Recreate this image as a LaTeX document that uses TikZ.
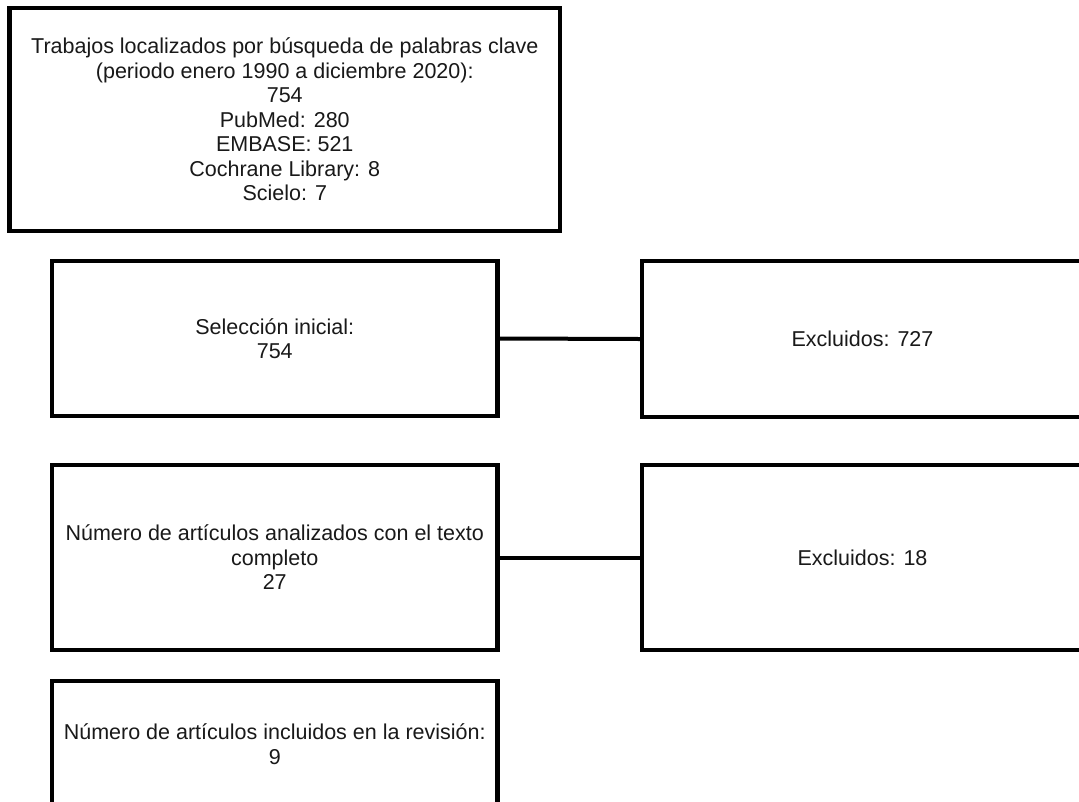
\documentclass[tikz,border=0pt]{standalone}
\usepackage{fontspec}
\setmainfont{Liberation Sans}
\begin{document}
\begin{tikzpicture}[x=1pt,y=-1pt,
  box/.style={draw=black, line width=4.5pt, fill=white, align=center, inner sep=0pt,
    font=\fontsize{21.5}{24.5}\selectfont, text=black!90},
  link/.style={draw=black, line width=4pt}]
\useasboundingbox (0,0) rectangle (1079,801);
\clip (0,0) rectangle (1079,801);
\node[box, minimum width=550.5pt, minimum height=223pt] (b1) at (284.75,119.5)
  {Trabajos localizados por búsqueda de palabras clave\\(periodo enero 1990 a diciembre 2020):\\754\\PubMed: 280\\EMBASE: 521\\Cochrane Library: 8\\Scielo: 7};
\node[box, minimum width=445.5pt, minimum height=155pt] (b2) at (274.75,338.5)
  {Selección inicial:\\754};
\node[box, minimum width=441pt, minimum height=156pt] (b3) at (862.5,339)
  {Excluidos: 727};
\node[box, minimum width=445.5pt, minimum height=185pt] (b4) at (274.75,557.5)
  {Número de artículos analizados con el texto\\completo\\27};
\node[box, minimum width=441pt, minimum height=185pt] (b5) at (862.5,557.5)
  {Excluidos: 18};
\node[box, minimum width=445.5pt, minimum height=126pt] (b6) at (274.75,744)
  {Número de artículos incluidos en la revisión:\\9};
\draw[link] (b2.east) -- (b3.west);
\draw[link] (b4.east) -- (b5.west);
\end{tikzpicture}
\end{document}
